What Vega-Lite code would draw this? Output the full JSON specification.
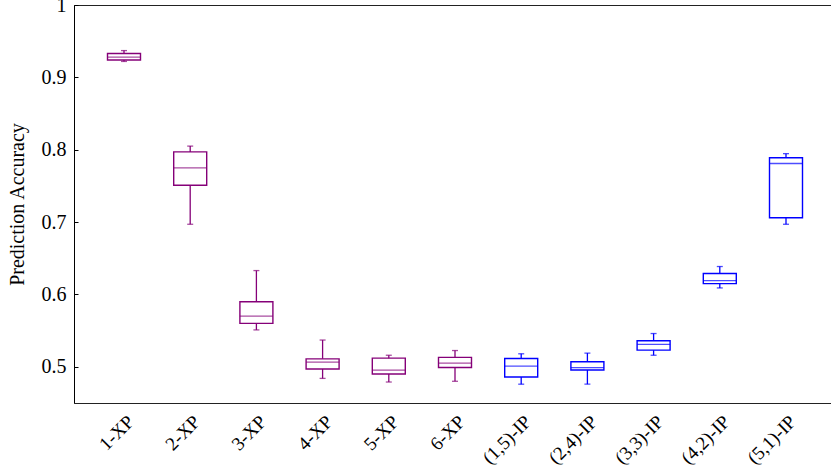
{
  "$schema": "https://vega.github.io/schema/vega-lite/v6.json",
  "autosize": "none",
  "width": 758,
  "height": 398,
  "padding": {"left": 74, "top": 5, "right": 0, "bottom": 68},
  "config": {
    "view": {"stroke": "#222222", "strokeWidth": 1},
    "font": "Liberation Serif"
  },
  "data": {
    "values": [
      {"config": "1-XP", "family": "XP", "min": 0.922, "q1": 0.924, "median": 0.928, "q3": 0.933, "max": 0.937},
      {"config": "2-XP", "family": "XP", "min": 0.697, "q1": 0.751, "median": 0.775, "q3": 0.797, "max": 0.805},
      {"config": "3-XP", "family": "XP", "min": 0.551, "q1": 0.560, "median": 0.570, "q3": 0.590, "max": 0.633},
      {"config": "4-XP", "family": "XP", "min": 0.484, "q1": 0.497, "median": 0.5065, "q3": 0.511, "max": 0.537},
      {"config": "5-XP", "family": "XP", "min": 0.479, "q1": 0.490, "median": 0.4955, "q3": 0.512, "max": 0.516},
      {"config": "6-XP", "family": "XP", "min": 0.480, "q1": 0.499, "median": 0.505, "q3": 0.513, "max": 0.5225},
      {"config": "(1,5)-IP", "family": "IP", "min": 0.476, "q1": 0.486, "median": 0.501, "q3": 0.5115, "max": 0.518},
      {"config": "(2,4)-IP", "family": "IP", "min": 0.476, "q1": 0.4955, "median": 0.499, "q3": 0.507, "max": 0.519},
      {"config": "(3,3)-IP", "family": "IP", "min": 0.516, "q1": 0.523, "median": 0.531, "q3": 0.536, "max": 0.546},
      {"config": "(4,2)-IP", "family": "IP", "min": 0.609, "q1": 0.615, "median": 0.619, "q3": 0.629, "max": 0.6386},
      {"config": "(5,1)-IP", "family": "IP", "min": 0.697, "q1": 0.706, "median": 0.781, "q3": 0.789, "max": 0.7946}
    ]
  },
  "encoding": {
    "x": {
      "field": "config",
      "type": "nominal",
      "sort": null,
      "scale": {"type": "point", "range": [50, 712], "padding": 0},
      "axis": {
        "title": null,
        "labelAngle": -45,
        "labelFont": "Liberation Serif",
        "labelFontSize": 19,
        "labelColor": "black",
        "ticks": false,
        "labelPadding": 9,
        "domainColor": "#222222",
        "grid": false
      }
    }
  },
  "layer": [
    {
      "mark": {"type": "rule", "strokeWidth": 1.3},
      "encoding": {
        "y": {
          "field": "min",
          "type": "quantitative",
          "title": "Prediction Accuracy",
          "scale": {"domain": [0.45, 1], "nice": false, "zero": false},
          "axis": {
            "values": [0.5, 0.6, 0.7, 0.8, 0.9, 1],
            "format": "~g",
            "grid": false,
            "labelFont": "Liberation Serif",
            "labelFontSize": 20,
            "labelColor": "black",
            "titleFont": "Liberation Serif",
            "titleFontSize": 20,
            "titleFontWeight": "normal",
            "titleColor": "black",
            "titlePadding": 14,
            "tickSize": -4,
            "tickColor": "black",
            "labelPadding": 12,
            "domainColor": "black"
          }
        },
        "y2": {"field": "max"},
        "color": {"field": "family", "type": "nominal", "scale": {"domain": ["XP", "IP"], "range": ["#850078", "#0000ff"]}, "legend": null}
      }
    },
    {
      "mark": {"type": "bar", "size": 33, "fill": "white", "strokeWidth": 1.4},
      "encoding": {
        "y": {"field": "q1", "type": "quantitative", "title": "Prediction Accuracy"},
        "y2": {"field": "q3"},
        "stroke": {"field": "family", "type": "nominal", "scale": {"domain": ["XP", "IP"], "range": ["#850078", "#0000ff"]}, "legend": null}
      }
    },
    {
      "mark": {"type": "tick", "size": 33, "thickness": 1.3},
      "encoding": {
        "y": {"field": "median", "type": "quantitative", "title": "Prediction Accuracy"},
        "color": {"field": "family", "type": "nominal", "scale": {"domain": ["XP", "IP"], "range": ["#850078", "#0000ff"]}, "legend": null}
      }
    },
    {
      "mark": {"type": "tick", "size": 6, "thickness": 1.3},
      "encoding": {
        "y": {"field": "min", "type": "quantitative", "title": "Prediction Accuracy"},
        "color": {"field": "family", "type": "nominal", "scale": {"domain": ["XP", "IP"], "range": ["#850078", "#0000ff"]}, "legend": null}
      }
    },
    {
      "mark": {"type": "tick", "size": 6, "thickness": 1.3},
      "encoding": {
        "y": {"field": "max", "type": "quantitative", "title": "Prediction Accuracy"},
        "color": {"field": "family", "type": "nominal", "scale": {"domain": ["XP", "IP"], "range": ["#850078", "#0000ff"]}, "legend": null}
      }
    }
  ]
}
